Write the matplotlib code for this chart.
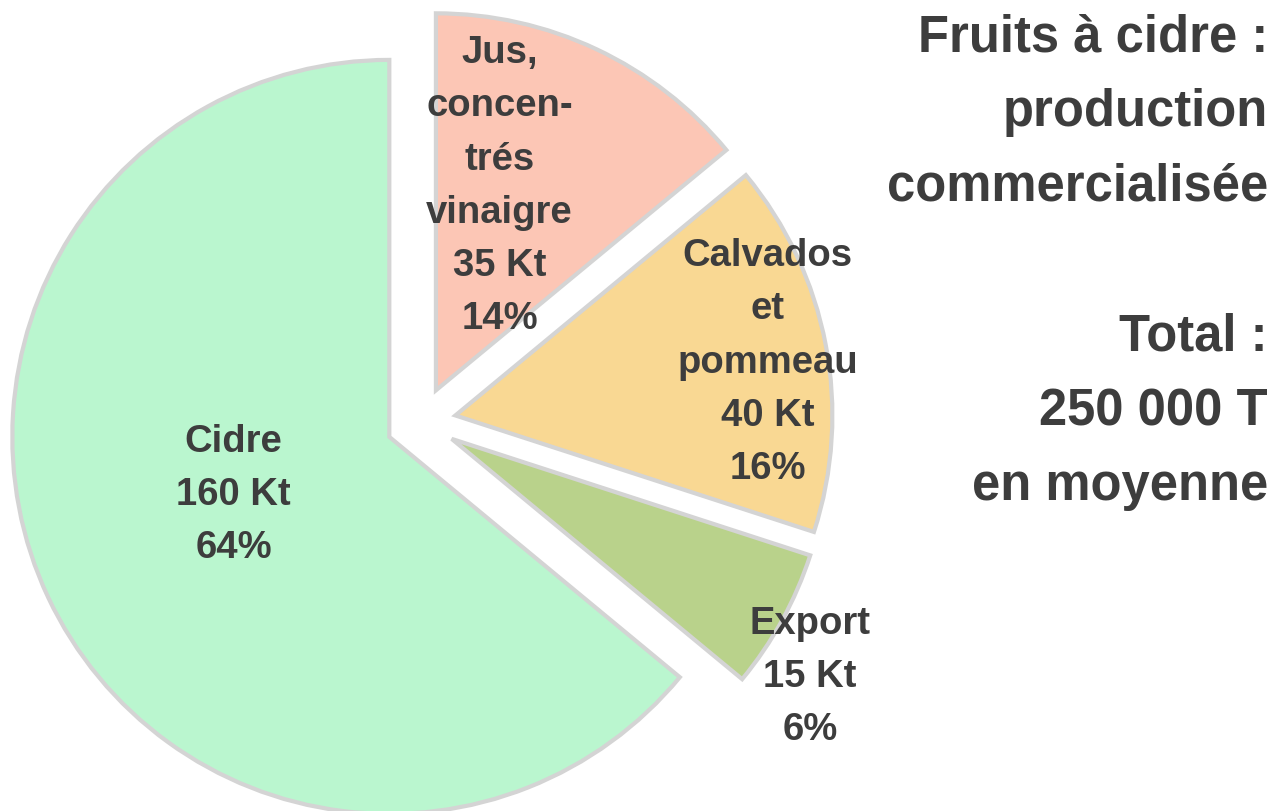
import numpy as np
import matplotlib.pyplot as plt

# data
labels = ['Cidre', 'Export', 'Calvados\net\npommeau', 'Jus,\nconcen-\ntrés\nvinaigre']
kt = [160, 15, 40, 35]
pct = [64, 6, 16, 14]
colors = ['#baf6cf', '#b9d28b', '#f9d893', '#fcc6b5']

title_lines = ['Fruits à cidre :', 'production', 'commercialisée', '', 'Total :', '250 000 T', 'en moyenne']

plt.rcParams['font.family'] = ['Liberation Sans', 'DejaVu Sans']
txt_col = '#3d3d3d'

fig = plt.figure(figsize=(12.81, 8.12), dpi=100)
ax = fig.add_axes([0, 0, 1, 1])

R = 377
# explode is in data units (pixels here)
wedges, _ = ax.pie(kt, colors=colors, startangle=90, counterclock=True,
                   radius=R, center=(421, 389), explode=[35] * 4,
                   wedgeprops=dict(edgecolor='#d4d4d4', linewidth=3),
                   frame=True)
ax.set_xlim(0, 1281)
ax.set_ylim(0, 812)
ax.axis('off')

# label placement relative to each wedge (distance in radii, angle shift in deg)
lab_dist = [0.44, 1.14, 0.84, 0.57]
lab_shift = [-5, -4.7, -1.0, 8]
for w, lab, k, p, d, s in zip(wedges, labels, kt, pct, lab_dist, lab_shift):
    th = np.deg2rad((w.theta1 + w.theta2) / 2 + s)
    cx, cy = w.center
    ax.text(cx + d * R * np.cos(th), cy + d * R * np.sin(th),
            f'{lab}\n{k} Kt\n{p}%', ha='center', va='center',
            fontsize=27.5, fontweight='bold', color=txt_col, linespacing=1.61)

ax.text(1268, 799, '\n'.join(title_lines), ha='right', va='top',
        fontsize=36.5, fontweight='bold', color=txt_col, linespacing=1.68)

fig.savefig('out.png', dpi=100)
